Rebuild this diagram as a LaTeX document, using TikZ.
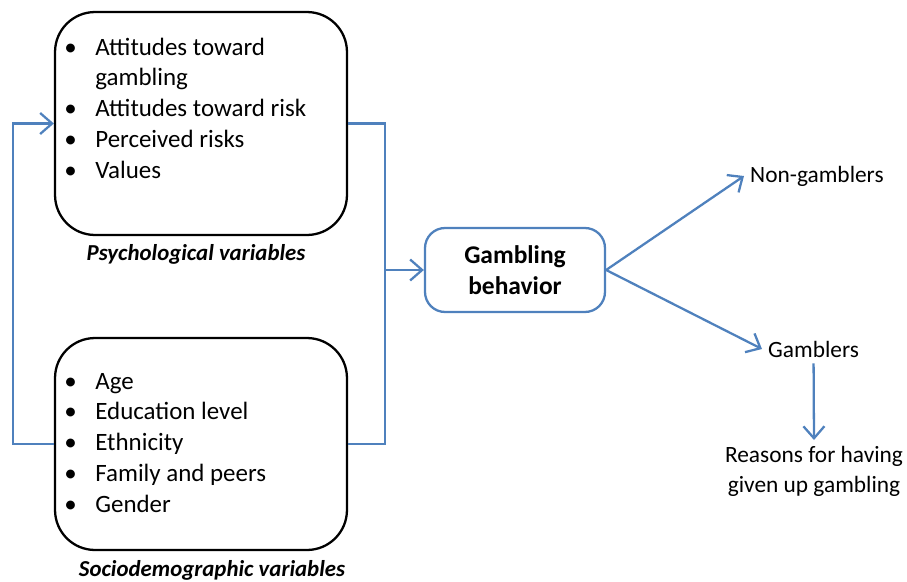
\documentclass[tikz,border=0pt]{standalone}
\usepackage{fontspec}
\setmainfont{Carlito}
\usetikzlibrary{arrows.meta}
\definecolor{flowblue}{RGB}{79,129,189}
\tikzset{
  varbox/.style={draw, line width=1.3pt, rounded corners=0.8cm, minimum width=5.84cm},
  varlist/.style={anchor=base west, inner sep=0pt, font=\fontsize{14.2}{17.6}\selectfont},
  varname/.style={font=\fontsize{13}{15}\selectfont\bfseries\itshape},
  flow/.style={flowblue, line width=1.3pt, -{Straight Barb[length=2.4mm,width=4.2mm]}},
  outcome/.style={font=\fontsize{13.3}{17}\selectfont, align=center},
}
\begin{document}
\begin{tikzpicture}[x=0.02cm, y=-0.02cm]
\useasboundingbox (0,0) rectangle (907,582);
% the two groups of variables
\node[varbox, minimum height=4.46cm] (psy) at (201,123.5) {};
\node[varbox, minimum height=4.24cm] (soc) at (201,444) {};
\node[varlist] (psylist) at (64,55) {\begin{tabular}[t]{@{}p{0.62cm}@{}l@{}}
\textbullet & Attitudes toward\\
 & gambling\\
\textbullet & Attitudes toward risk\\
\textbullet & Perceived risks\\
\textbullet & Values
\end{tabular}};
\node[varlist] (soclist) at (64,389) {\begin{tabular}[t]{@{}p{0.62cm}@{}l@{}}
\textbullet & Age\\
\textbullet & Education level\\
\textbullet & Ethnicity\\
\textbullet & Family and peers\\
\textbullet & Gender
\end{tabular}};
\node[varname] (psyname) at (196,254) {Psychological variables};
\node[varname] (socname) at (212,570) {Sociodemographic variables};
% behaviour and outcomes
\node[draw=flowblue, line width=1.3pt, rounded corners=0.4cm, minimum width=3.6cm,
  minimum height=1.68cm, align=center, font=\fontsize{14.5}{17.5}\selectfont\bfseries] (gb) at (515,270) {Gambling\\behavior};
\node[outcome, anchor=west] (ng) at (744,176) {Non-gamblers};
\node[outcome, anchor=west] (gam) at (762,349) {Gamblers};
\node[outcome, anchor=north] (why) at (814,440) {Reasons for having\\given up gambling};
% connectors
\coordinate (join) at (385,270);
\draw[flow] (soc.west) -- ++(-41,0) |- (psy.west);
\draw[flowblue, line width=1.3pt] (psy.east) -| (join) |- (soc.east);
\draw[flow] (join) -- (gb.west);
\draw[flow] (gb.east) -- (ng.west);
\draw[flow] (gb.east) -- (gam.west);
\draw[flow] (gam.south) -- (why.north);
\end{tikzpicture}
\end{document}
